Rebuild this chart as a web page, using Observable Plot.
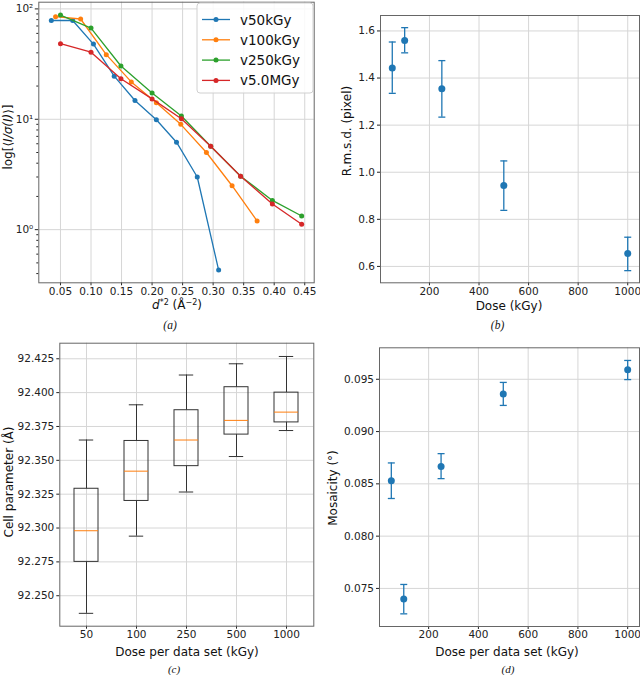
<!DOCTYPE html>
<html><head><meta charset="utf-8">
<script src="https://cdn.jsdelivr.net/npm/d3@7"></script>
<script src="https://cdn.jsdelivr.net/npm/@observablehq/plot@0.6"></script>
<style>
body{margin:0;background:#fff;}
#wrap{position:relative;width:640px;height:675px;overflow:hidden;font-family:"DejaVu Sans";}
.panel{position:absolute;}
</style></head><body><div id="wrap"></div>
<script>
// ---------- Panel (a): <I/sigma(I)> vs d*2 ----------
const seriesNames = ["v50kGy", "v100kGy", "v250kGy", "v5.0MGy"];
const seriesColors = ["#1f77b4", "#ff7f0e", "#2ca02c", "#d62728"];
const v50_x = [0.035, 0.070, 0.104, 0.138, 0.172, 0.207, 0.240, 0.274, 0.309];
const v50_y = [78.5, 78.5, 48.0, 24.6, 14.8, 9.9, 6.2, 3.0, 0.43];
const v100_x = [0.042, 0.083, 0.125, 0.166, 0.207, 0.247, 0.289, 0.331, 0.372];
const v100_y = [85.0, 81.0, 38.5, 21.8, 14.1, 9.0, 5.0, 2.5, 1.2];
const v250_x = [0.050, 0.100, 0.149, 0.200, 0.248, 0.296, 0.345, 0.397, 0.445];
const v250_y = [88.0, 67.0, 30.4, 17.3, 10.7, 5.7, 3.05, 1.84, 1.33];
const v5M_x = [0.050, 0.100, 0.149, 0.200, 0.248, 0.296, 0.345, 0.397, 0.445];
const v5M_y = [48.4, 40.5, 23.3, 15.3, 10.1, 5.7, 3.05, 1.71, 1.12];
const aXTicks = [0.05, 0.10, 0.15, 0.20, 0.25, 0.30, 0.35, 0.40, 0.45];
const aYTicks = [1, 10, 100];
const aYTickLabels = ["10\u2070", "10\u00b9", "10\u00b2"];
const aYMinor = [0.4, 0.5, 0.6, 0.7, 0.8, 0.9, 2, 3, 4, 5, 6, 7, 8, 9, 20, 30, 40, 50, 60, 70, 80, 90];

// ---------- Panel (b): R.m.s.d. vs dose ----------
const doses = [50, 100, 250, 500, 1000];
const rmsd = [1.443, 1.559, 1.355, 0.944, 0.655];
const rmsdLo = [1.335, 1.507, 1.234, 0.838, 0.582];
const rmsdHi = [1.553, 1.614, 1.474, 1.048, 0.724];
const doseTicks = [200, 400, 600, 800, 1000];
const rmsdTicks = [0.6, 0.8, 1.0, 1.2, 1.4, 1.6];

// ---------- Panel (c): cell parameter box plots ----------
const cellDoses = ["50", "100", "250", "500", "1000"];
const cellWhiskerLo = [92.237, 92.294, 92.3266, 92.3528, 92.372];
const cellQ1 = [92.275, 92.320, 92.3457, 92.369, 92.378];
const cellMedian = [92.298, 92.342, 92.365, 92.3795, 92.3856];
const cellQ3 = [92.329, 92.3643, 92.387, 92.404, 92.400];
const cellWhiskerHi = [92.365, 92.391, 92.413, 92.4213, 92.4267];
const cellTicks = [92.250, 92.275, 92.300, 92.325, 92.350, 92.375, 92.400, 92.425];

// ---------- Panel (d): mosaicity vs dose ----------
const mosaicity = [0.0853, 0.0740, 0.08667, 0.0936, 0.0959];
const mosLo = [0.0836, 0.07257, 0.0855, 0.0925, 0.09497];
const mosHi = [0.0870, 0.07538, 0.08789, 0.0947, 0.0968];
const mosTicks = [0.075, 0.080, 0.085, 0.090, 0.095];

// ---------- helpers ----------
const wrap = document.getElementById("wrap");
const blue = "#1f77b4";
const gridColor = "#d6d6d6";
const frameColor = "#666";
const plotStyle = {fontFamily: "DejaVu Sans", fontSize: "10.5px", color: "#222", background: "transparent", overflow: "visible"};
const capSymbol = {draw(ctx, size) { const r = Math.sqrt(size / Math.PI); ctx.moveTo(-r, 0); ctx.lineTo(r, 0); }};
const intFmt = d3.format("d");

function place(svg, left, top) {
  const div = document.createElement("div");
  div.className = "panel";
  div.style.left = left + "px";
  div.style.top = top + "px";
  div.appendChild(svg);
  wrap.appendChild(div);
}
function addText(svg, x, y, parts, {rotate = false, size = 12, family = "DejaVu Sans", italic = false} = {}) {
  const t = d3.select(svg).append("text")
    .attr("transform", `translate(${x},${y})` + (rotate ? " rotate(-90)" : ""))
    .attr("text-anchor", "middle").attr("dominant-baseline", "central")
    .attr("font-family", family).attr("font-size", size).attr("fill", "#111")
    .attr("font-style", italic ? "italic" : "normal");
  for (const p of parts) {
    const s = t.append("tspan").text(p.text);
    if (p.italic) s.attr("font-style", "italic");
    if (p.dy) s.attr("dy", p.dy);
    if (p.size) s.attr("font-size", p.size);
  }
}

// ---------- Panel (a) ----------
const aSeries = [
  [seriesNames[0], v50_x, v50_y],
  [seriesNames[1], v100_x, v100_y],
  [seriesNames[2], v250_x, v250_y],
  [seriesNames[3], v5M_x, v5M_y]
].map(([name, xs, ys]) => xs.map((x, i) => ({series: name, x, y: ys[i]})));

const svgA = Plot.plot({
  width: 320, height: 330,
  marginLeft: 38.3, marginRight: 6.3, marginTop: 1.7, marginBottom: 47.7,
  style: plotStyle,
  x: {domain: [0.0145, 0.4655]},
  y: {type: "log", domain: [0.33, 115]},
  color: {domain: seriesNames, range: seriesColors},
  marks: [
    Plot.gridX({ticks: aXTicks, stroke: gridColor, strokeOpacity: 1}),
    Plot.gridY({ticks: aYTicks, stroke: gridColor, strokeOpacity: 1}),
    Plot.axisX({ticks: aXTicks, tickFormat: d3.format(".2f"), tickSize: 3, tickPadding: 1.5, label: null}),
    Plot.axisY({ticks: aYMinor, tickFormat: () => "", tickSize: 2, label: null}),
    Plot.axisY({ticks: aYTicks, tickFormat: d => aYTickLabels[aYTicks.indexOf(d)], tickSize: 3.5, tickPadding: 2, label: null}),
    ...aSeries.flatMap(rows => [
      Plot.line(rows, {x: "x", y: "y", stroke: "series", strokeWidth: 1.3}),
      Plot.dot(rows, {x: "x", y: "y", fill: "series", r: 2.5})
    ]),
    Plot.frame({stroke: frameColor})
  ]
});
place(svgA, 0, 0);
addText(svgA, 8, 137, [{text: "log[\u27e8"}, {text: "I/\u03c3(I)", italic: true}, {text: "\u27e9]"}], {rotate: true});
addText(svgA, 177, 304.5, [
  {text: "d", italic: true},
  {text: "*2", size: 8, dy: -3},
  {text: " (\u00c5", dy: 3},
  {text: "\u22122", size: 8, dy: -3},
  {text: ")", dy: 3}
]);
addText(svgA, 170, 324.5, [{text: "(a)"}], {family: "Liberation Serif", size: 11.5, italic: true});
// legend
{
  const g = d3.select(svgA).append("g");
  g.append("rect").attr("x", 197).attr("y", 3).attr("width", 116).attr("height", 90).attr("rx", 3)
    .attr("fill", "#fff").attr("fill-opacity", 0.85).attr("stroke", "#d0d0d0");
  seriesNames.forEach((name, i) => {
    const y = 19.5 + i * 20.3;
    g.append("line").attr("x1", 202).attr("x2", 230).attr("y1", y).attr("y2", y)
      .attr("stroke", seriesColors[i]).attr("stroke-width", 1.3);
    g.append("circle").attr("cx", 216).attr("cy", y).attr("r", 2.5).attr("fill", seriesColors[i]);
    g.append("text").attr("x", 240).attr("y", y).attr("dominant-baseline", "central")
      .attr("text-anchor", "start")
      .attr("font-family", "DejaVu Sans").attr("font-size", 13.5).attr("fill", "#111").text(name);
  });
}

// ---------- Panel (b) ----------
const bData = doses.map((d, i) => ({dose: d, v: rmsd[i], lo: rmsdLo[i], hi: rmsdHi[i]}));
const svgB = Plot.plot({
  width: 320, height: 330,
  marginLeft: 60, marginRight: 1, marginTop: 15, marginBottom: 47.7,
  style: plotStyle,
  x: {domain: [2.5, 1047.5]},
  y: {domain: [0.5304, 1.6656]},
  marks: [
    Plot.gridX({ticks: doseTicks, stroke: gridColor, strokeOpacity: 1}),
    Plot.gridY({ticks: rmsdTicks, stroke: gridColor, strokeOpacity: 1}),
    Plot.axisX({ticks: doseTicks, tickFormat: intFmt, tickSize: 3, tickPadding: 1.5, label: null}),
    Plot.axisY({ticks: rmsdTicks, tickFormat: d3.format(".1f"), tickSize: 3, tickPadding: 2.5, label: null}),
    Plot.ruleX(bData, {x: "dose", y1: "lo", y2: "hi", stroke: blue, strokeWidth: 1.3}),
    Plot.dot(bData, {x: "dose", y: "lo", symbol: capSymbol, r: 3.5, stroke: blue, fill: "none", strokeWidth: 1.3}),
    Plot.dot(bData, {x: "dose", y: "hi", symbol: capSymbol, r: 3.5, stroke: blue, fill: "none", strokeWidth: 1.3}),
    Plot.dot(bData, {x: "dose", y: "v", r: 3.5, fill: blue}),
    Plot.frame({stroke: frameColor})
  ]
});
place(svgB, 320, 0);
addText(svgB, 26.5, 131, [{text: "R.m.s.d. (pixel)"}], {rotate: true});
addText(svgB, 189, 306, [{text: "Dose (kGy)"}]);
addText(svgB, 177.5, 324.5, [{text: "(b)"}], {family: "Liberation Serif", size: 11.5, italic: true});

// ---------- Panel (c) ----------
const cData = cellDoses.map((d, i) => ({dose: d, lo: cellWhiskerLo[i], q1: cellQ1[i], med: cellMedian[i], q3: cellQ3[i], hi: cellWhiskerHi[i]}));
const boxStroke = "#333";
const svgC = Plot.plot({
  width: 320, height: 345,
  marginLeft: 59.3, marginRight: 6.7, marginTop: 12.7, marginBottom: 49.3,
  style: plotStyle,
  x: {type: "band", domain: cellDoses, padding: 0},
  y: {domain: [92.2275, 92.4365]},
  marks: [
    Plot.gridX({stroke: gridColor, strokeOpacity: 1}),
    Plot.gridY({ticks: cellTicks, stroke: gridColor, strokeOpacity: 1}),
    Plot.axisX({tickSize: 3, tickPadding: 1.5, label: null}),
    Plot.axisY({ticks: cellTicks, tickFormat: d3.format(".3f"), tickSize: 3, tickPadding: 2.5, label: null}),
    Plot.ruleX(cData, {x: "dose", y1: "lo", y2: "q1", stroke: boxStroke, strokeWidth: 1}),
    Plot.ruleX(cData, {x: "dose", y1: "q3", y2: "hi", stroke: boxStroke, strokeWidth: 1}),
    Plot.tickY(cData, {x: "dose", y: "lo", stroke: boxStroke, strokeWidth: 1, insetLeft: 17.8, insetRight: 17.8}),
    Plot.tickY(cData, {x: "dose", y: "hi", stroke: boxStroke, strokeWidth: 1, insetLeft: 17.8, insetRight: 17.8}),
    Plot.barY(cData, {x: "dose", y1: "q1", y2: "q3", fill: "none", stroke: boxStroke, strokeWidth: 1, insetLeft: 13, insetRight: 13}),
    Plot.tickY(cData, {x: "dose", y: "med", stroke: "#ff7f0e", strokeWidth: 1, insetLeft: 13, insetRight: 13}),
    Plot.frame({stroke: frameColor})
  ]
});
place(svgC, 0, 330);
addText(svgC, 9, 152, [{text: "Cell parameter (\u00c5)"}], {rotate: true});
addText(svgC, 187, 321.5, [{text: "Dose per data set (kGy)"}]);
addText(svgC, 174, 338.5, [{text: "(c)"}], {family: "Liberation Serif", size: 11, italic: true});

// ---------- Panel (d) ----------
const dData = doses.map((d, i) => ({dose: d, v: mosaicity[i], lo: mosLo[i], hi: mosHi[i]}));
const svgD = Plot.plot({
  width: 320, height: 345,
  marginLeft: 59, marginRight: 1, marginTop: 17.3, marginBottom: 49,
  style: plotStyle,
  x: {domain: [2.5, 1047.5]},
  y: {domain: [0.07136, 0.09801]},
  marks: [
    Plot.gridX({ticks: doseTicks, stroke: gridColor, strokeOpacity: 1}),
    Plot.gridY({ticks: mosTicks, stroke: gridColor, strokeOpacity: 1}),
    Plot.axisX({ticks: doseTicks, tickFormat: intFmt, tickSize: 3, tickPadding: 1.5, label: null}),
    Plot.axisY({ticks: mosTicks, tickFormat: d3.format(".3f"), tickSize: 3, tickPadding: 2.5, label: null}),
    Plot.ruleX(dData, {x: "dose", y1: "lo", y2: "hi", stroke: blue, strokeWidth: 1.3}),
    Plot.dot(dData, {x: "dose", y: "lo", symbol: capSymbol, r: 3.5, stroke: blue, fill: "none", strokeWidth: 1.3}),
    Plot.dot(dData, {x: "dose", y: "hi", symbol: capSymbol, r: 3.5, stroke: blue, fill: "none", strokeWidth: 1.3}),
    Plot.dot(dData, {x: "dose", y: "v", r: 3.5, fill: blue}),
    Plot.frame({stroke: frameColor})
  ]
});
place(svgD, 320, 330);
addText(svgD, 12.5, 158, [{text: "Mosaicity (\u00b0)"}], {rotate: true});
addText(svgD, 187, 321.5, [{text: "Dose per data set (kGy)"}]);
addText(svgD, 188, 338.5, [{text: "(d)"}], {family: "Liberation Serif", size: 11, italic: true});
</script>
</body></html>
